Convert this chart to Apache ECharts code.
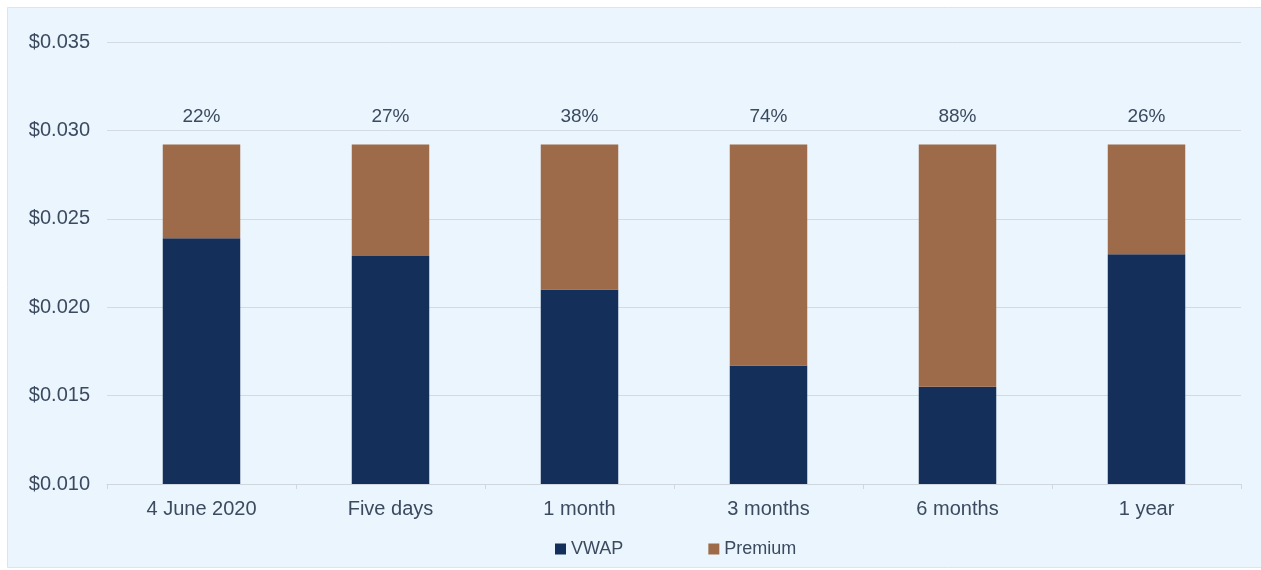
<!DOCTYPE html>
<html>
<head>
<meta charset="utf-8">
<script src="https://cdn.jsdelivr.net/npm/echarts@6/dist/echarts.min.js"></script>
<style>
  html, body { margin: 0; padding: 0; background: #ffffff; }
  #chart { width: 1261px; height: 570px; }
</style>
</head>
<body>
<div id="chart"></div>
<script>
// Periods over which the VWAP is measured
const categories = ['4 June 2020', 'Five days', '1 month', '3 months', '6 months', '1 year'];
// VWAP per share for each period ($)
const vwap = [0.0239, 0.0229, 0.0210, 0.0167, 0.0155, 0.0230];
// Premium of the offer price over each VWAP ($)
const premium = [0.0053, 0.0063, 0.0082, 0.0125, 0.0137, 0.0062];
// Premium as a percentage of VWAP
const premiumPct = ['22%', '27%', '38%', '74%', '88%', '26%'];

const textColor = '#3b4a5f';
const font = 'Liberation Sans, Arial, sans-serif';

const chart = echarts.init(document.getElementById('chart'));
chart.setOption({
  backgroundColor: '#ffffff',
  animation: false,
  textStyle: { fontFamily: font },
  graphic: [{
    type: 'rect',
    z: -10,
    silent: true,
    shape: { x: 7.5, y: 7.5, width: 1260, height: 560 },
    style: { fill: '#ebf5fd', stroke: '#dde4ea', lineWidth: 1 }
  }],
  grid: { left: 107, right: 20, top: 42, bottom: 86, containLabel: false },
  legend: {
    top: 540,
    left: 555,
    padding: 0,
    itemWidth: 11,
    itemHeight: 11,
    itemGap: 85,
    icon: 'rect',
    textStyle: { color: textColor, fontSize: 18, fontFamily: font },
    data: ['VWAP', 'Premium']
  },
  xAxis: {
    type: 'category',
    data: categories,
    axisLine: { lineStyle: { color: '#cfd6dd', width: 1 } },
    axisTick: { show: true, length: 5, lineStyle: { color: '#cfd6dd' } },
    axisLabel: { color: textColor, fontSize: 20, margin: 15, fontFamily: font }
  },
  yAxis: {
    type: 'value',
    min: 0.010,
    max: 0.035,
    interval: 0.005,
    axisLine: { show: false },
    axisTick: { show: false },
    splitLine: { lineStyle: { color: '#d3dae1', width: 1 } },
    axisLabel: {
      color: textColor,
      fontSize: 20,
      margin: 17,
      fontFamily: font,
      formatter: v => '$' + v.toFixed(3)
    }
  },
  series: [
    {
      name: 'VWAP',
      type: 'bar',
      stack: 'price',
      barWidth: '41%',
      data: vwap,
      itemStyle: { color: '#14305a' }
    },
    {
      name: 'Premium',
      type: 'bar',
      stack: 'price',
      barWidth: '41%',
      data: premium,
      itemStyle: { color: '#9e6b4a' },
      label: {
        show: true,
        position: 'top',
        distance: 18,
        color: textColor,
        fontSize: 19,
        fontFamily: font,
        formatter: p => premiumPct[p.dataIndex]
      }
    }
  ]
});
</script>
</body>
</html>
